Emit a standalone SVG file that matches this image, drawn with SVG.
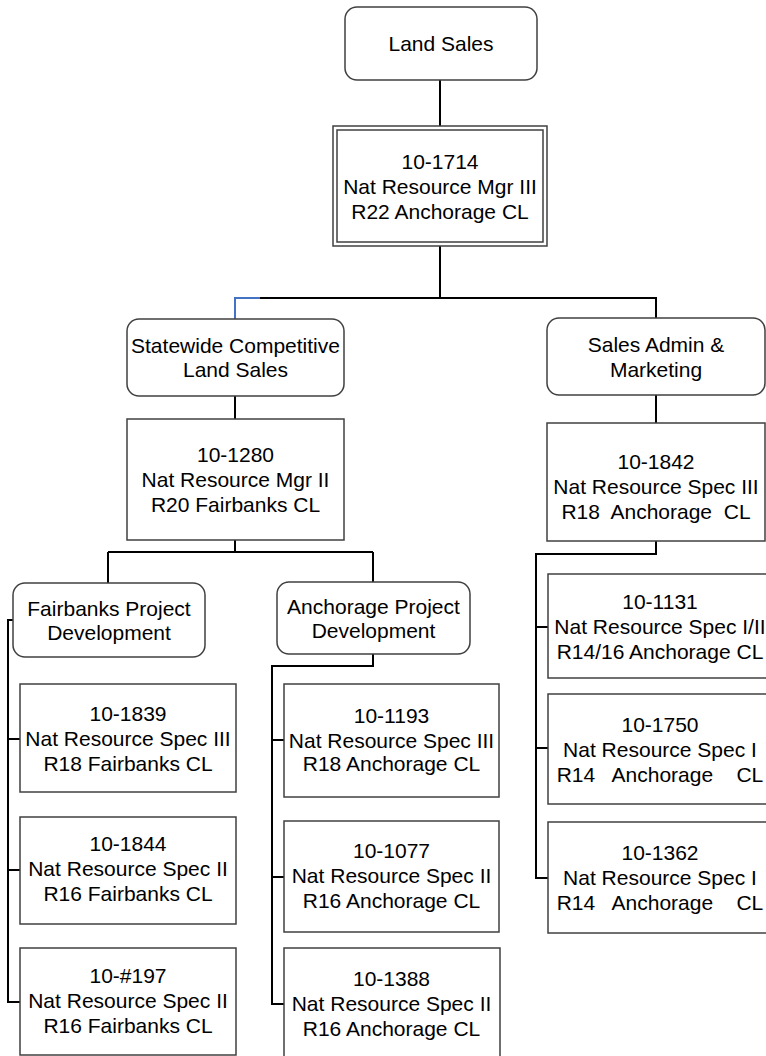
<svg xmlns="http://www.w3.org/2000/svg" width="766" height="1056" viewBox="0 0 766 1056">
<style>
.box{fill:#fff;stroke:#404040;stroke-width:1.5}
.t{font-family:"Liberation Sans",Arial,sans-serif;font-size:21px;fill:#000;text-anchor:middle}
.c{fill:none;stroke:#000;stroke-width:2}
</style>
<rect width="766" height="1056" fill="#fff"/>
<g id="connectors">
<path class="c" d="M440,80V126"/>
<path class="c" d="M440,246V298H260M260,298H656V318"/>
<path d="M260,298H235V319" fill="none" stroke="#4472C4" stroke-width="2"/>
<path class="c" d="M235,396V419"/>
<path class="c" d="M235,540V552M108,552H373M108,552V583M373,552V582"/>
<path class="c" d="M656,395V423"/>
<path class="c" d="M656,541V554H536V878H548M536,627H548M536,748H548"/>
<path class="c" d="M13,620H8V1002H20M8,739H20M8,870H20"/>
<path class="c" d="M373,654V666H272V1004H284M272,740H284M272,877H284"/>
</g>
<g id="land-sales">
<rect class="box" x="345" y="7" width="192" height="73" rx="12"/>
<text class="t" x="441" y="51">Land Sales</text>
</g>
<g id="n10-1714">
<rect class="box" x="333" y="126" width="214" height="120"/>
<rect class="box" x="337" y="130" width="206" height="112"/>
<text class="t" x="440" y="168.5">10-1714</text>
<text class="t" x="440" y="193.5">Nat Resource Mgr III</text>
<text class="t" x="440" y="218.5">R22 Anchorage CL</text>
</g>
<g id="statewide">
<rect class="box" x="127" y="319" width="217" height="77" rx="12"/>
<text class="t" x="235.5" y="352.5">Statewide Competitive</text>
<text class="t" x="235.5" y="376.5">Land Sales</text>
</g>
<g id="n10-1280">
<rect class="box" x="127" y="419" width="217" height="121"/>
<text class="t" x="235.5" y="462">10-1280</text>
<text class="t" x="235.5" y="487">Nat Resource Mgr II</text>
<text class="t" x="235.5" y="512">R20 Fairbanks CL</text>
</g>
<g id="sales-admin">
<rect class="box" x="547" y="318" width="218" height="77" rx="12"/>
<text class="t" x="656" y="352">Sales Admin &amp;</text>
<text class="t" x="656" y="377">Marketing</text>
</g>
<g id="n10-1842">
<rect class="box" x="547" y="423" width="218" height="118"/>
<text class="t" x="656" y="469">10-1842</text>
<text class="t" x="656" y="494">Nat Resource Spec III</text>
<text class="t" x="656" y="519" xml:space="preserve">R18  Anchorage  CL</text>
</g>
<g id="fairbanks-project">
<rect class="box" x="13" y="583" width="192" height="74" rx="12"/>
<text class="t" x="109" y="615.5">Fairbanks Project</text>
<text class="t" x="109" y="639.5">Development</text>
</g>
<g id="anchorage-project">
<rect class="box" x="277" y="582" width="193" height="72" rx="12"/>
<text class="t" x="373.5" y="614">Anchorage Project</text>
<text class="t" x="373.5" y="638">Development</text>
</g>
<g id="n10-1839">
<rect class="box" x="20" y="684" width="216" height="108"/>
<text class="t" x="128" y="720.5">10-1839</text>
<text class="t" x="128" y="745.5">Nat Resource Spec III</text>
<text class="t" x="128" y="770.5">R18 Fairbanks CL</text>
</g>
<g id="n10-1844">
<rect class="box" x="20" y="817" width="216" height="107"/>
<text class="t" x="128" y="851">10-1844</text>
<text class="t" x="128" y="876">Nat Resource Spec II</text>
<text class="t" x="128" y="901">R16 Fairbanks CL</text>
</g>
<g id="n10-197">
<rect class="box" x="20" y="948" width="216" height="107"/>
<text class="t" x="128" y="982.5">10-#197</text>
<text class="t" x="128" y="1007.5">Nat Resource Spec II</text>
<text class="t" x="128" y="1032.5">R16 Fairbanks CL</text>
</g>
<g id="n10-1193">
<rect class="box" x="284" y="684" width="215" height="113"/>
<text class="t" x="391.5" y="722.5">10-1193</text>
<text class="t" x="391.5" y="747.5">Nat Resource Spec III</text>
<text class="t" x="391.5" y="771">R18 Anchorage CL</text>
</g>
<g id="n10-1077">
<rect class="box" x="284" y="821" width="215" height="111"/>
<text class="t" x="391.5" y="857.5">10-1077</text>
<text class="t" x="391.5" y="883">Nat Resource Spec II</text>
<text class="t" x="391.5" y="908">R16 Anchorage CL</text>
</g>
<g id="n10-1388">
<rect class="box" x="284" y="948" width="216" height="120"/>
<text class="t" x="391.5" y="985.5">10-1388</text>
<text class="t" x="391.5" y="1010.5">Nat Resource Spec II</text>
<text class="t" x="391.5" y="1036">R16 Anchorage CL</text>
</g>
<g id="n10-1131">
<rect class="box" x="548" y="574" width="224" height="104"/>
<text class="t" x="660" y="608.5">10-1131</text>
<text class="t" x="660" y="633.5">Nat Resource Spec I/II</text>
<text class="t" x="660" y="658.5">R14/16 Anchorage CL</text>
</g>
<g id="n10-1750">
<rect class="box" x="548" y="694" width="224" height="110"/>
<text class="t" x="660" y="731.5">10-1750</text>
<text class="t" x="660" y="756.5">Nat Resource Spec I</text>
<text class="t" x="660" y="781.5" xml:space="preserve">R14   Anchorage    CL</text>
</g>
<g id="n10-1362">
<rect class="box" x="548" y="822" width="224" height="111"/>
<text class="t" x="660" y="859.5">10-1362</text>
<text class="t" x="660" y="884.5">Nat Resource Spec I</text>
<text class="t" x="660" y="909.5" xml:space="preserve">R14   Anchorage    CL</text>
</g>
</svg>
